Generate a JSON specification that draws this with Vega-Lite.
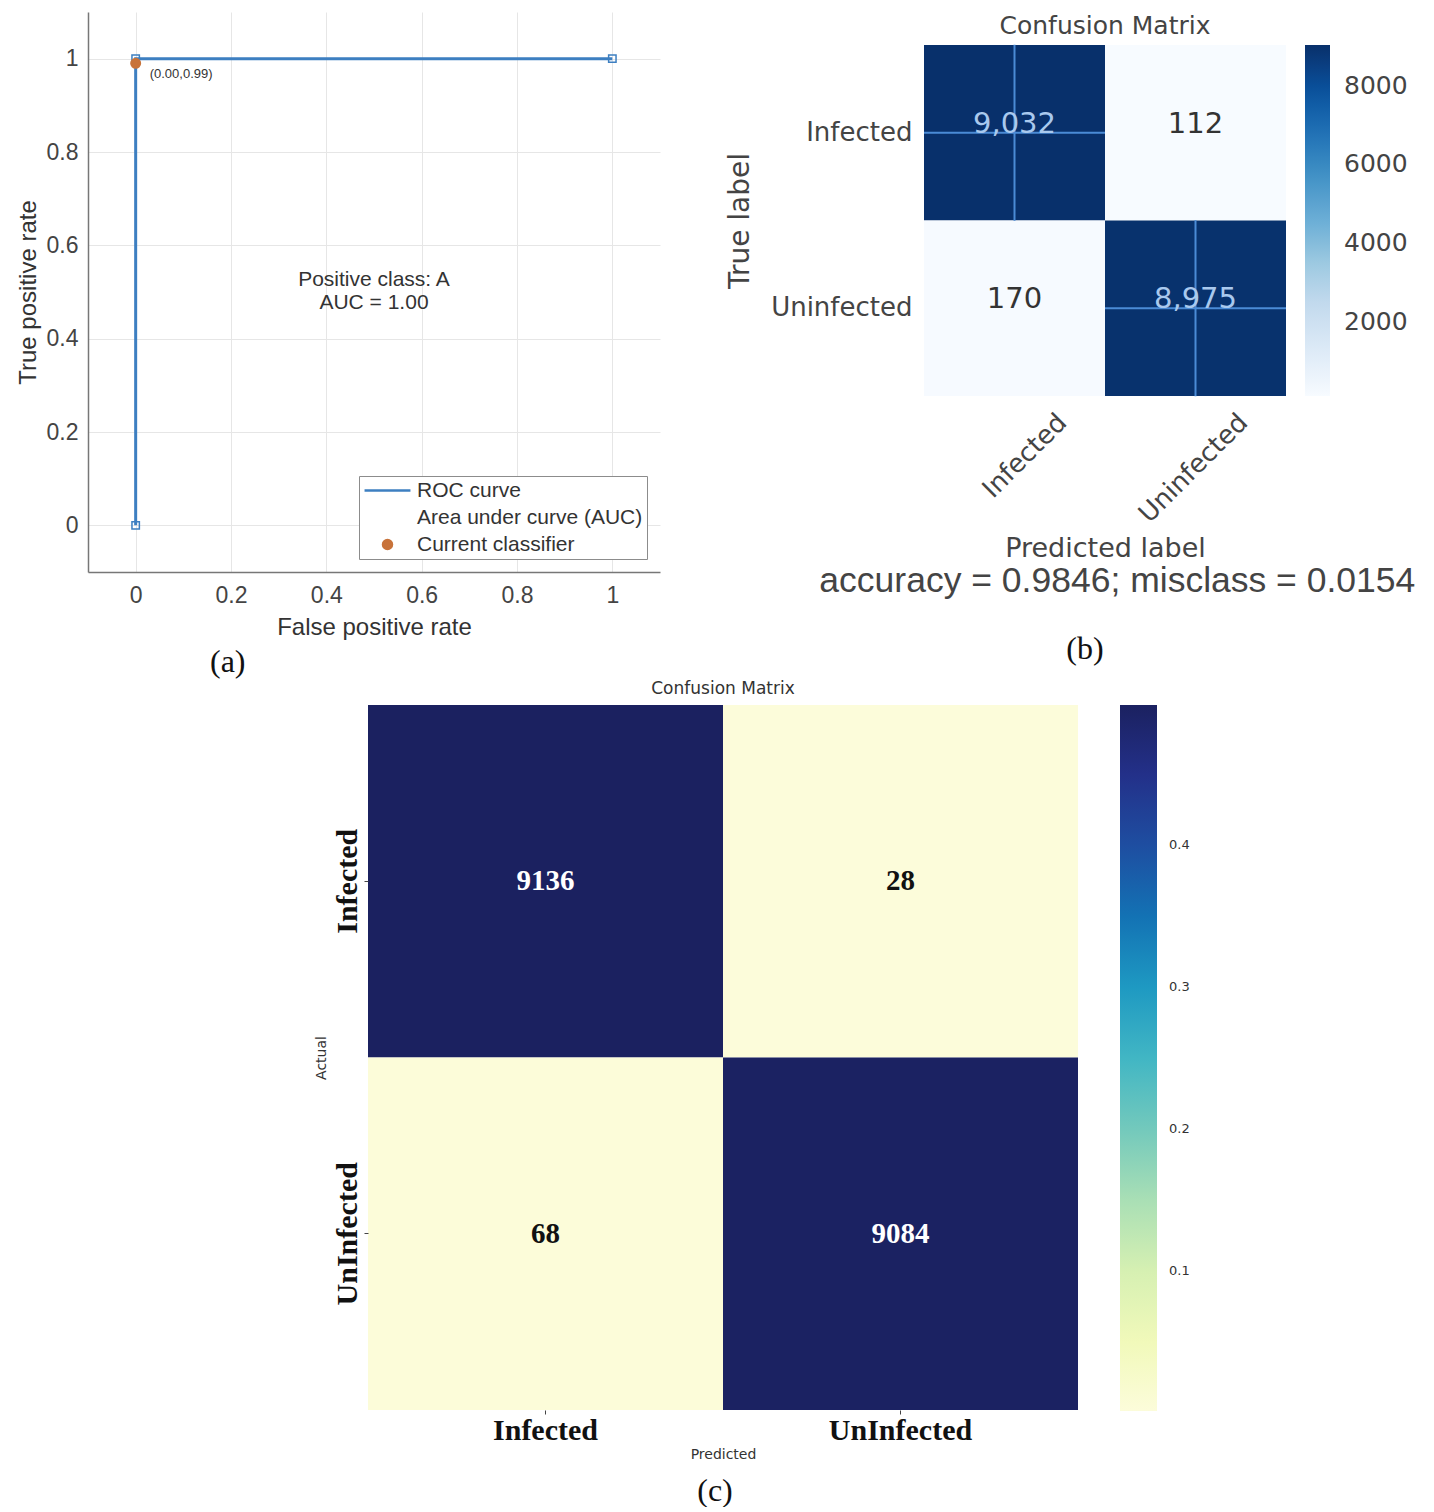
{
  "$schema": "https://vega.github.io/schema/vega-lite/v6.json",
  "padding": {"left": 16, "top": 12, "right": 0, "bottom": 0},
  "spacing": 2,
  "resolve": {"scale": {"color": "independent"}},
  "config": {
    "view": {"stroke": null},
    "font": "Liberation Sans",
    "title": {"anchor": "middle"}
  },
  "vconcat": [
    {
      "hconcat": [
        {
          "width": 572,
          "height": 560,
          "title": {"text": "(a)", "orient": "bottom", "anchor": "start", "frame": "group", "font": "Liberation Serif", "fontSize": 32, "fontWeight": "normal", "color": "#111", "offset": 8, "dx": 122},
          "encoding": {
            "x": {"field": "fpr", "type": "quantitative", "scale": {"domain": [-0.1, 1.1], "nice": false, "zero": false},
              "axis": {"title": "False positive rate", "values": [0, 0.2, 0.4, 0.6, 0.8, 1], "format": "~g", "labelFontSize": 23, "labelColor": "#444", "labelFont": "Liberation Sans", "titleFontSize": 24, "titleFontWeight": "normal", "titleColor": "#333", "titleFont": "Liberation Sans", "ticks": false, "labelPadding": 12, "titlePadding": 8, "gridColor": "#e6e6e6", "domainColor": "#777", "domainWidth": 1.5}},
            "y": {"field": "tpr", "type": "quantitative", "scale": {"domain": [-0.1, 1.1], "nice": false, "zero": false},
              "axis": {"title": "True positive rate", "values": [0, 0.2, 0.4, 0.6, 0.8, 1], "format": "~g", "labelFontSize": 23, "labelColor": "#444", "labelFont": "Liberation Sans", "titleFontSize": 24, "titleFontWeight": "normal", "titleColor": "#333", "titleFont": "Liberation Sans", "ticks": false, "labelPadding": 10, "titlePadding": 6, "gridColor": "#e6e6e6", "domainColor": "#777", "domainWidth": 1.5}}
          },
          "layer": [
            {
              "data": {"values": [
                {"fpr": 0, "tpr": 0, "step": 1},
                {"fpr": 0, "tpr": 1, "step": 2},
                {"fpr": 1, "tpr": 1, "step": 3}
              ]},
              "mark": {"type": "line", "color": "#3d7fc1", "strokeWidth": 3, "point": {"shape": "square", "filled": false, "size": 55, "strokeWidth": 1.5, "color": "#3d7fc1", "opacity": 1}},
              "encoding": {"order": {"field": "step", "type": "quantitative"}}
            },
            {
              "data": {"values": [
                {"fpr": 0, "tpr": 0.99, "series": "Current classifier", "label": "(0.00,0.99)"}
              ]},
              "layer": [
                {
                  "mark": {"type": "point", "filled": true, "opacity": 1, "size": 324, "strokeWidth": 2},
                  "encoding": {
                    "fill": {"field": "series", "type": "nominal",
                      "scale": {"domain": ["ROC curve", "Area under curve (AUC)", "Current classifier"], "range": ["#3d7fc1", "#ffffff", "#c8733a"]},
                      "legend": {"title": null, "orient": "bottom-right", "offset": 13, "padding": 4, "rowPadding": 5, "strokeColor": "#8c8c8c", "fillColor": "#ffffff", "labelFontSize": 21, "labelColor": "#333", "labelFont": "Liberation Sans", "labelLimit": 400, "symbolSize": 324, "symbolStrokeWidth": 2.5, "symbolOffset": 14, "labelOffset": 19, "cornerRadius": 0}},
                    "stroke": {"field": "series", "type": "nominal",
                      "scale": {"domain": ["ROC curve", "Area under curve (AUC)", "Current classifier"], "range": ["#3d7fc1", "#ffffff", "#c8733a"]},
                      "legend": {"title": null, "orient": "bottom-right", "offset": 13, "padding": 4, "rowPadding": 5, "strokeColor": "#8c8c8c", "fillColor": "#ffffff", "labelFontSize": 21, "labelColor": "#333", "labelFont": "Liberation Sans", "labelLimit": 400, "symbolSize": 324, "symbolStrokeWidth": 2.5, "symbolOffset": 14, "labelOffset": 19, "cornerRadius": 0}},
                    "shape": {"field": "series", "type": "nominal",
                      "scale": {"domain": ["ROC curve", "Area under curve (AUC)", "Current classifier"], "range": ["M-2.55,0H2.55", "M0.5,0A0.5,0.5,0,1,1,-0.5,0A0.5,0.5,0,1,1,0.5,0Z", "M0.5,0A0.5,0.5,0,1,1,-0.5,0A0.5,0.5,0,1,1,0.5,0Z"]},
                      "legend": {"title": null, "orient": "bottom-right", "offset": 13, "padding": 4, "rowPadding": 5, "strokeColor": "#8c8c8c", "fillColor": "#ffffff", "labelFontSize": 21, "labelColor": "#333", "labelFont": "Liberation Sans", "labelLimit": 400, "symbolSize": 324, "symbolStrokeWidth": 2.5, "symbolOffset": 14, "labelOffset": 19, "cornerRadius": 0}}
                  }
                },
                {
                  "mark": {"type": "text", "align": "left", "baseline": "middle", "dx": 14, "dy": 11, "fontSize": 13, "color": "#333", "font": "Liberation Sans"},
                  "encoding": {"text": {"field": "label", "type": "nominal"}}
                }
              ]
            },
            {
              "data": {"values": [
                {"fpr": 0.5, "tpr": 0.525, "note": "Positive class: A\nAUC = 1.00"}
              ]},
              "mark": {"type": "text", "fontSize": 21, "lineHeight": 23, "lineBreak": "\n", "color": "#333", "font": "Liberation Sans"},
              "encoding": {"text": {"field": "note", "type": "nominal"}}
            }
          ]
        },
        {
          "title": {"text": "(b)", "orient": "bottom", "font": "Liberation Serif", "fontSize": 32, "fontWeight": "normal", "color": "#111", "offset": 34, "dx": 14},
          "resolve": {"scale": {"color": "independent"}},
          "vconcat": [
            {
              "title": {"text": "accuracy = 0.9846; misclass = 0.0154", "orient": "bottom", "font": "Liberation Sans", "fontSize": 35.5, "fontWeight": "normal", "color": "#444", "offset": 3, "dx": 50},
              "spacing": 0,
              "resolve": {"scale": {"color": "independent"}},
              "vconcat": [
                {
                  "width": 10,
                  "height": 1,
                  "data": {"values": []},
                  "mark": "point"
                },
                {
                  "title": {"text": "Confusion Matrix", "font": "DejaVu Sans", "fontSize": 25, "fontWeight": "normal", "color": "#444", "offset": 6},
                  "width": 362,
                  "height": 351,
                  "data": {"values": [
                    {"actual": "Infected", "predicted": "Infected", "count": 9032},
                    {"actual": "Infected", "predicted": "Uninfected", "count": 112},
                    {"actual": "Uninfected", "predicted": "Infected", "count": 170},
                    {"actual": "Uninfected", "predicted": "Uninfected", "count": 8975}
                  ]},
                  "encoding": {
                    "x": {"field": "predicted", "type": "nominal", "sort": ["Infected", "Uninfected"], "scale": {"paddingInner": 0, "paddingOuter": 0},
                      "axis": {"title": "Predicted label", "labelAngle": -45, "labelAlign": "right", "labelBaseline": "middle", "labelOffset": 48, "labelPadding": 22, "ticks": false, "domain": false, "labelFontSize": 26, "labelFont": "DejaVu Sans", "labelColor": "#444", "titleFontSize": 27, "titleFont": "DejaVu Sans", "titleFontWeight": "normal", "titleColor": "#444", "titlePadding": 8}},
                    "y": {"field": "actual", "type": "nominal", "sort": ["Infected", "Uninfected"], "scale": {"paddingInner": 0, "paddingOuter": 0},
                      "axis": {"title": "True label", "labelAngle": 0, "ticks": false, "domain": false, "labelFontSize": 26, "labelFont": "DejaVu Sans", "labelColor": "#444", "labelPadding": 12, "titleFontSize": 28, "titleFont": "DejaVu Sans", "titleFontWeight": "normal", "titleColor": "#444", "titlePadding": 16}}
                  },
                  "layer": [
                    {
                      "mark": {"type": "rect"},
                      "encoding": {
                        "color": {"field": "count", "type": "quantitative",
                          "scale": {"type": "linear", "domain": [112, 1227, 2342, 3457, 4572, 5687, 6802, 7917, 9032], "range": ["#f7fbff", "#deebf7", "#c6dbef", "#9ecae1", "#6baed6", "#4292c6", "#2171b5", "#08519c", "#08306b"], "clamp": true},
                          "legend": {"title": null, "orient": "right", "direction": "vertical", "gradientLength": 351, "gradientThickness": 25, "offset": 19, "values": [2000, 4000, 6000, 8000], "format": "d", "labelFontSize": 25, "labelFont": "DejaVu Sans", "labelColor": "#444", "labelOffset": 14, "labelOverlap": false}}
                      }
                    },
                    {
                      "transform": [{"filter": "datum.count > 4500"}],
                      "mark": {"type": "tick", "orient": "vertical", "size": 176, "thickness": 2, "color": "#4a8bd6", "opacity": 1}
                    },
                    {
                      "transform": [{"filter": "datum.count > 4500"}],
                      "mark": {"type": "tick", "orient": "horizontal", "size": 181, "thickness": 2, "color": "#4a8bd6", "opacity": 1}
                    },
                    {
                      "mark": {"type": "text", "font": "DejaVu Sans", "fontSize": 29, "dy": -9},
                      "encoding": {
                        "text": {"field": "count", "type": "quantitative", "format": ","},
                        "color": {"condition": {"test": "datum.count > 4500", "value": "#a9c9ee"}, "value": "#333333"}
                      }
                    }
                  ]
                }
              ]
            }
          ]
        }
      ],
      "spacing": 66,
      "resolve": {"scale": {"color": "independent", "fill": "independent", "stroke": "independent", "shape": "independent"}}
    },
    {
      "hconcat": [
        {
          "width": 226,
          "height": 1,
          "data": {"values": []},
          "mark": "point"
        },
        {
          "title": {"text": "(c)", "orient": "bottom", "font": "Liberation Serif", "fontSize": 32, "fontWeight": "normal", "color": "#111", "offset": 15, "dx": -37},
          "resolve": {"scale": {"color": "independent"}},
          "vconcat": [
            {
              "title": {"text": "Confusion Matrix", "font": "DejaVu Sans", "fontSize": 17, "fontWeight": "normal", "color": "#333", "offset": 7},
              "width": 710,
              "height": 705,
              "data": {"values": [
                {"actual": "Infected", "predicted": "Infected", "count": 9136, "share": 0.4988},
                {"actual": "Infected", "predicted": "UnInfected", "count": 28, "share": 0.0015},
                {"actual": "UnInfected", "predicted": "Infected", "count": 68, "share": 0.0037},
                {"actual": "UnInfected", "predicted": "UnInfected", "count": 9084, "share": 0.496}
              ]},
              "encoding": {
                "x": {"field": "predicted", "type": "nominal", "sort": ["Infected", "UnInfected"], "scale": {"paddingInner": 0, "paddingOuter": 0},
                  "axis": {"title": "Predicted", "titleFont": "DejaVu Sans", "titleFontSize": 14, "titleFontWeight": "normal", "titleColor": "#333", "labelFont": "Liberation Serif", "labelFontWeight": "bold", "labelFontSize": 30, "labelColor": "#111", "labelAngle": 0, "tickSize": 4, "tickColor": "#444", "domain": false, "labelPadding": 1, "titlePadding": 2}},
                "y": {"field": "actual", "type": "nominal", "sort": ["Infected", "UnInfected"], "scale": {"paddingInner": 0, "paddingOuter": 0},
                  "axis": {"title": "Actual", "titleFont": "DejaVu Sans", "titleFontSize": 14, "titleFontWeight": "normal", "titleColor": "#333", "labelFont": "Liberation Serif", "labelFontWeight": "bold", "labelFontSize": 30, "labelColor": "#111", "labelAngle": 270, "labelAlign": "center", "labelBaseline": "bottom", "tickSize": 4, "tickColor": "#444", "domain": false, "labelPadding": 2, "titlePadding": 4}}
              },
              "layer": [
                {
                  "mark": {"type": "rect"},
                  "encoding": {
                    "color": {"field": "share", "type": "quantitative",
                      "scale": {"type": "linear", "domain": [0.0015, 0.0637, 0.1258, 0.188, 0.2502, 0.3123, 0.3745, 0.4367, 0.4988], "range": ["#fcfcda", "#edf8b1", "#c7e9b4", "#7fcdbb", "#41b6c4", "#1d91c0", "#225ea8", "#253494", "#1b2160"], "clamp": true},
                      "legend": {"title": null, "orient": "right", "direction": "vertical", "gradientLength": 706, "gradientThickness": 37, "offset": 42, "values": [0.1, 0.2, 0.3, 0.4], "format": ".1f", "labelFontSize": 13, "labelFont": "DejaVu Sans", "labelColor": "#333", "labelOffset": 12, "labelOverlap": false}}
                  }
                },
                {
                  "mark": {"type": "text", "font": "Liberation Serif", "fontWeight": "bold", "fontSize": 29},
                  "encoding": {
                    "text": {"field": "count", "type": "quantitative"},
                    "color": {"condition": {"test": "datum.share > 0.25", "value": "#ffffff"}, "value": "#111111"}
                  }
                }
              ]
            }
          ]
        }
      ],
      "spacing": 0
    }
  ]
}
